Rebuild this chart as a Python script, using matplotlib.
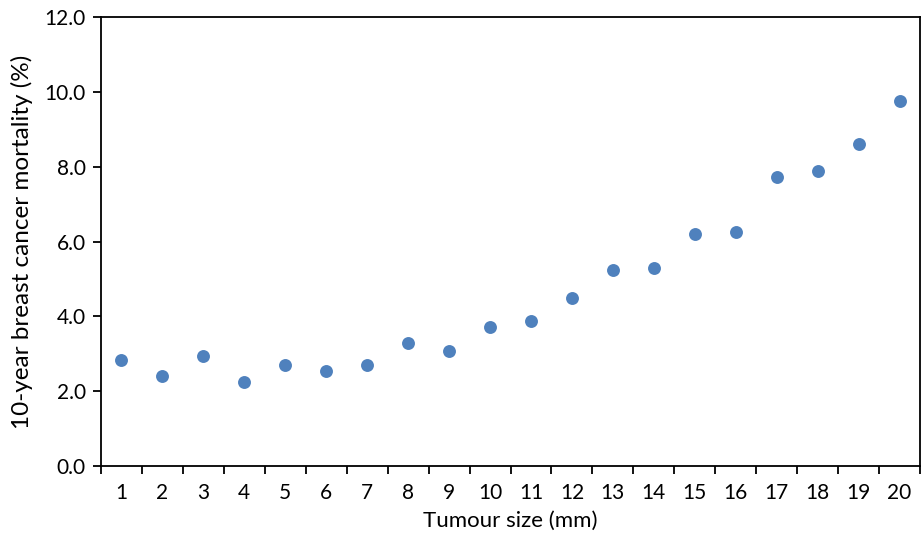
import matplotlib
matplotlib.use("Agg")
import matplotlib.pyplot as plt
from matplotlib.ticker import FormatStrFormatter, MultipleLocator, FixedLocator

plt.rcParams['font.family'] = ['Lato', 'DejaVu Sans']

sizes = list(range(1, 21))
mortality = [2.83, 2.41, 2.94, 2.24, 2.70, 2.54, 2.70, 3.29, 3.07, 3.71,
             3.88, 4.49, 5.24, 5.29, 6.20, 6.25, 7.72, 7.88, 8.60, 9.75]

fig = plt.figure(figsize=(9.22, 5.36), dpi=100)
ax = fig.add_axes([101/922, 70/536, 819/922, 449/536])

ax.plot(sizes, mortality, 'o', color='#4F81BD', markersize=9.3, markeredgewidth=0)

ax.set_xlim(0.5, 20.5)
ax.set_ylim(0, 12)
ax.yaxis.set_major_locator(MultipleLocator(2))
ax.yaxis.set_major_formatter(FormatStrFormatter('%.1f'))

ax.xaxis.set_major_locator(FixedLocator([i + 0.5 for i in range(0, 21)]))
ax.xaxis.set_major_formatter(plt.NullFormatter())
ax.set_xticks(sizes, [str(s) for s in sizes], minor=True)
ax.tick_params(axis='x', which='minor', length=0, pad=12, labelsize=15)
ax.tick_params(axis='x', which='major', length=6, width=1.3, direction='out')
ax.tick_params(axis='y', length=6, width=1.3, direction='out', labelsize=15, pad=5)

for s in ax.spines.values():
    s.set_linewidth(1.3)
    s.set_color('black')

ax.set_xlabel('Tumour size (mm)', fontsize=16, labelpad=6)
ax.set_ylabel('10-year breast cancer mortality (%)', fontsize=17.5, labelpad=8)

fig.savefig('out.png', dpi=100)
